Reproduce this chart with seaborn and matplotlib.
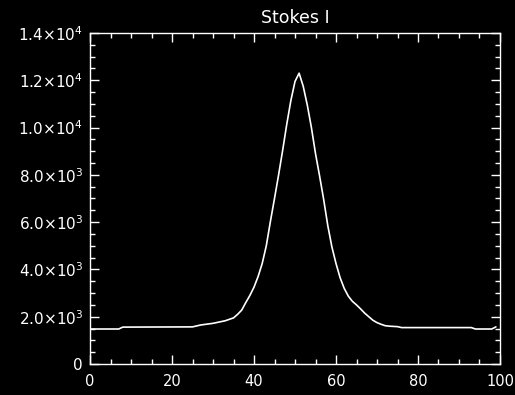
import numpy as np
import pandas as pd
import matplotlib
matplotlib.use("Agg")
import matplotlib.pyplot as plt
from matplotlib.ticker import MultipleLocator, FuncFormatter
import seaborn as sns

# Stokes I line profile (sample index vs. intensity)
pixel = [0, 7, 8, 25, 27, 30, 33, 35, 36, 37, 38, 39, 40, 41, 42, 43, 44,
         45, 46, 47, 48, 49, 50, 51, 52, 53, 54, 55, 56, 57, 58, 59, 60,
         61, 62, 63, 64, 65, 66, 67, 68, 69, 70, 71, 72, 73, 75, 76, 93,
         94, 98, 99]
intensity = [1480, 1480, 1560, 1570, 1650, 1720, 1830, 1950, 2100, 2280,
             2600, 2900, 3250, 3700, 4250, 5000, 6030, 7000, 8000, 9050,
             10150, 11150, 11950, 12300, 11750, 10950, 10000, 8900, 7950,
             6950, 5850, 4950, 4250, 3650, 3200, 2870, 2650, 2500, 2330,
             2150, 2000, 1850, 1750, 1680, 1620, 1600, 1580, 1540, 1540,
             1480, 1480, 1570]

x_ticks = [0, 20, 40, 60, 80, 100]
y_ticks = [0, 2000, 4000, 6000, 8000, 10000, 12000, 14000]
title = "Stokes I"

df = pd.DataFrame({"pixel": pixel, "intensity": intensity})

sns.set_style("ticks", {
    "axes.facecolor": "black",
    "figure.facecolor": "black",
    "axes.edgecolor": "white",
    "text.color": "white",
    "xtick.color": "white",
    "ytick.color": "white",
})
plt.rcParams["font.family"] = ["DejaVu Sans"]
plt.rcParams["mathtext.fontset"] = "dejavusans"

fig = plt.figure(figsize=(5.15, 3.95), dpi=100)
ax = fig.add_axes([90 / 515, 31 / 395, 410 / 515, 331 / 395])

sns.lineplot(data=df, x="pixel", y="intensity", ax=ax, color="white",
             linewidth=1.2, estimator=None, sort=False)

ax.set_xlim(0, 100)
ax.set_ylim(0, 14000)
ax.set_xticks(x_ticks)
ax.set_yticks(y_ticks)
ax.xaxis.set_minor_locator(MultipleLocator(5))
ax.yaxis.set_minor_locator(MultipleLocator(500))


def sci_label(v, pos):
    if v == 0:
        return "0"
    e = int(np.floor(np.log10(v)))
    m = v / 10 ** e
    return rf"${m:.1f}{{\times}}10^{{{e}}}$"


ax.yaxis.set_major_formatter(FuncFormatter(sci_label))
ax.set_xlabel("")
ax.set_ylabel("")

for sp in ax.spines.values():
    sp.set_visible(True)
    sp.set_color("white")
    sp.set_linewidth(1.0)

ax.tick_params(which="both", direction="in", top=True, right=True,
               color="white", width=1.0)
ax.tick_params(which="major", length=6.5)
ax.tick_params(which="minor", length=3.3)
ax.tick_params(axis="x", which="major", labelsize=10.5, pad=7)
ax.tick_params(axis="y", which="major", labelsize=11, pad=5)

ax.set_title(title, color="white", fontsize=12.5, pad=7)

fig.savefig("out.png", dpi=100, facecolor="black")
